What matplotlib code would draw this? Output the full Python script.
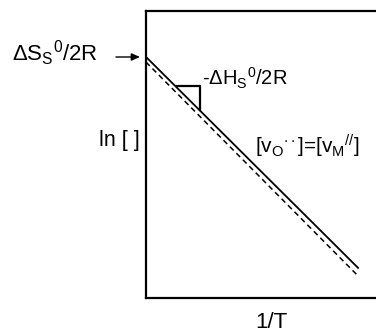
import numpy as np
import matplotlib.pyplot as plt

plt.rcParams['font.family'] = ['Liberation Sans', 'DejaVu Sans']
plt.rcParams['mathtext.fontset'] = 'custom'
plt.rcParams['mathtext.rm'] = 'Liberation Sans'
plt.rcParams['mathtext.it'] = 'Liberation Sans'
plt.rcParams['mathtext.sf'] = 'Liberation Sans'
plt.rcParams['mathtext.default'] = 'regular'

# schematic data (axes units 0..1)
inv_T = [0.0, 0.922]
ln_solid = [0.840, 0.105]
ln_dashed = [0.822, 0.077]
tri_x = [0.135, 0.235, 0.235]
tri_y = [0.739, 0.739, 0.655]

W, H = 376, 334
fig = plt.figure(figsize=(W/100, H/100), dpi=100)
ax = fig.add_axes([146/W, 36/H, 1 - 146/W, 287/H])

ax.plot(inv_T, ln_solid, color='black', lw=1.3)
ax.plot(inv_T, ln_dashed, color='black', lw=1.1, dashes=(3.5, 2.5))
ax.plot(tri_x, tri_y, color='black', lw=1.6)

ax.set_xlim(0, 1)
ax.set_ylim(0, 1)
ax.set_xticks([])
ax.set_yticks([])
ax.spines['right'].set_visible(False)
for s in ['left', 'top', 'bottom']:
    ax.spines[s].set_linewidth(1.6)

def ftext(x, y, s, fs=14.5, **kw):
    # place text by pixel position (from top-left)
    fig.text(x/W, 1 - y/H, s, fontsize=fs, va='baseline', **kw)

ftext(12, 61, r'ΔS$_S$$^0$/2R', fs=16, ha='left')
ax.annotate('', xy=(140/W, 1 - 57/H), xytext=(116/W, 1 - 57/H),
            xycoords='figure fraction', textcoords='figure fraction',
            arrowprops=dict(arrowstyle='-|>,head_length=0.5,head_width=0.22',
                            color='black', lw=1.0, shrinkA=0, shrinkB=0))
ftext(202, 86, r'-ΔH$_S$$^0$/2R', ha='left')
ftext(140, 146, 'ln [ ]', fs=15.5, ha='right')
ftext(255, 154, r'[v$_O$$^{\cdot\cdot}$]=[v$_M$$^{//}$]', fs=15, ha='left')
ftext(271, 328, '1/T', fs=16, ha='center')

fig.savefig('out.png', dpi=100)
